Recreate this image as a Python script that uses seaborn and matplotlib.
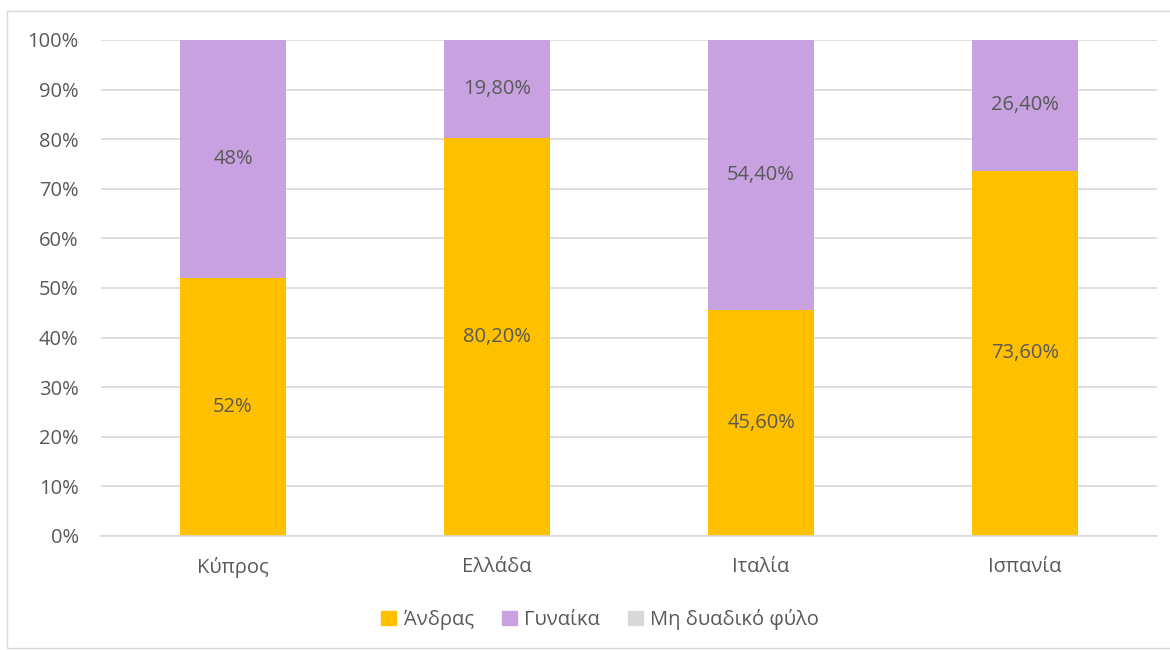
import matplotlib
matplotlib.use("Agg")
import matplotlib.pyplot as plt
import matplotlib.patches as mpatches
import pandas as pd
import seaborn as sns

# Δεδομένα
countries = ["Κύπρος", "Ελλάδα", "Ιταλία", "Ισπανία"]
male = [52.0, 80.2, 45.6, 73.6]
female = [48.0, 19.8, 54.4, 26.4]
nonbinary = [0.0, 0.0, 0.0, 0.0]
male_labels = ["52%", "80,20%", "45,60%", "73,60%"]
female_labels = ["48%", "19,80%", "54,40%", "26,40%"]
series_names = ["Άνδρας", "Γυναίκα", "Μη δυαδικό φύλο"]

c_male = "#FFC000"
c_female = "#C8A1E0"
c_nb = "#D9D9D9"
text_c = "#595959"
fs = 14.5

sns.set_style("white")
plt.rcParams["font.family"] = ["Open Sans", "DejaVu Sans"]

df = pd.DataFrame({"country": countries, "male": male, "female": female, "nb": nonbinary})
df["top"] = df["male"] + df["female"] + df["nb"]

fig = plt.figure(figsize=(11.7, 6.5), dpi=100)
ax = fig.add_axes([0.0863, 0.1754, 0.9027, 0.7631])

# Στοιβαγμένες μπάρες: σύνολο (γυναίκα) και από πάνω άνδρας
sns.barplot(data=df, x="country", y="top", color=c_female, width=0.4,
            saturation=1, linewidth=0, ax=ax, zorder=2)
sns.barplot(data=df, x="country", y="male", color=c_male, width=0.4,
            saturation=1, linewidth=0, ax=ax, zorder=3)

for i in range(len(countries)):
    ax.text(i, male[i] / 2, male_labels[i], ha="center", va="center",
            fontsize=fs, color=text_c, zorder=4)
    ax.text(i, male[i] + female[i] / 2, female_labels[i], ha="center", va="center",
            fontsize=fs, color=text_c, zorder=4)

ax.set_ylim(0, 100)
ax.set_xlim(-0.5, 3.5)
ax.set_yticks(range(0, 101, 10))
ax.set_yticklabels([f"{v}%" for v in range(0, 101, 10)])
ax.yaxis.grid(True, color="#D9D9D9", linewidth=1.2, zorder=0)
ax.set_axisbelow(True)
ax.set_xlabel("")
ax.set_ylabel("")
for s in ["top", "right", "left"]:
    ax.spines[s].set_visible(False)
ax.spines["bottom"].set_color("#D9D9D9")
ax.spines["bottom"].set_linewidth(1.2)
ax.spines["bottom"].set_zorder(5)
ax.tick_params(axis="both", length=0, labelsize=fs, labelcolor=text_c)
ax.tick_params(axis="y", pad=16)
ax.tick_params(axis="x", pad=15)

handles = [mpatches.Patch(color=c, label=n) for c, n in zip([c_male, c_female, c_nb], series_names)]
fig.legend(handles=handles, loc="center", bbox_to_anchor=(0.513, 0.047), ncol=3,
           frameon=False, fontsize=fs, handlelength=0.75, handleheight=0.75,
           handletextpad=0.35, columnspacing=1.4, labelcolor=text_c)

# Πλαίσιο γραφήματος
fig.patches.append(mpatches.Rectangle((7 / 1170, 2 / 650), 1.1, 637 / 650,
                                      transform=fig.transFigure, fill=False,
                                      edgecolor="#D9D9D9", linewidth=1))

fig.savefig("out.png", dpi=100)
